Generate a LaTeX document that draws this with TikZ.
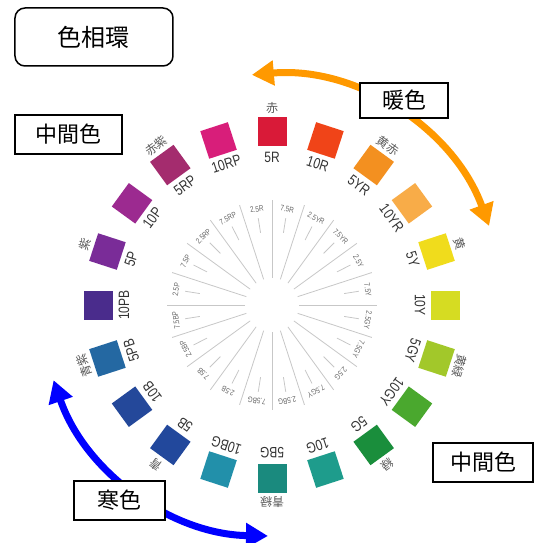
\documentclass[tikz,border=0pt]{standalone}
\usepackage{fontspec}
\setmainfont{Liberation Sans}
\newfontfamily\narrowfont[FakeStretch=0.8]{Liberation Sans}
\newfontfamily\jpfont{Noto Sans CJK JP}
\usetikzlibrary{arrows.meta}
\definecolor{warmor}{HTML}{FF9900}
\definecolor{coldbl}{HTML}{0000FF}
\begin{document}
\begin{tikzpicture}[x=1pt,y=1pt,
  sq/.style={minimum size=29pt, inner sep=0pt, outer sep=0pt},
  huelbl/.style={font=\narrowfont\fontsize{15}{15}\selectfont, text=black!80, inner sep=0pt},
  jplbl/.style={font=\jpfont\fontsize{12}{12}\selectfont, text=black!65, inner sep=0pt},
  sublbl/.style={font=\narrowfont\fontsize{8}{8}\selectfont, text=black!60, inner sep=0pt},
  spoke/.style={draw=black!22, line width=0.8pt},
  tagbox/.style={draw=black, fill=white, line width=1.5pt, font=\jpfont\fontsize{22}{22}\selectfont, inner sep=0pt},
  bigarrow/.style={line width=7pt, {Triangle[length=22pt,width=24pt]}-{Triangle[length=22pt,width=24pt]}}
]
\path[use as bounding box] (-272,-238) rectangle (263,305);

% spokes
\foreach \i in {0,...,19}{
  \pgfmathsetmacro{\ang}{90-18*\i}
  \draw[spoke] (\ang:27) -- (\ang:105);
  \draw[spoke] (\ang+9:73) -- (\ang+9:88);
}

% small intermediate labels
\foreach \k/\fa/\fb in {0/2.5R/7.5R,1/2.5YR/7.5YR,2/2.5Y/7.5Y,3/2.5GY/7.5GY,4/2.5G/7.5GY,5/2.5BG/7.5BG,6/2.5B/7.5B,7/2.5BP/7.5BP,8/2.5P/7.5P,9/2.5RP/7.5RP}{
  \pgfmathsetmacro{\ang}{90-36*\k}
  \node[sublbl, rotate=\ang+9-90] (sa\k) at (\ang+9:97) {\fa};
  \node[sublbl, rotate=\ang-9-90] (sb\k) at (\ang-9:97) {\fb};
}

% colour squares and hue labels
\foreach \i/\hn/\hc in {0/5R/D91A38,1/10R/F04418,2/5YR/F39020,3/10YR/F8AC48,4/5Y/F0DC1C,5/10Y/D6DC22,6/5GY/A2C82A,7/10GY/4AA82E,8/5G/1A8E3C,9/10G/1E9C8C,10/5BG/1A8A7E,11/10BG/2290AA,12/5B/22489C,13/10B/24489A,14/5PB/2468A2,15/10PB/4A2C8C,16/5P/7A2C98,17/10P/9C2A90,18/5RP/A42C6E,19/10RP/D81E7A}{
  \pgfmathsetmacro{\ang}{90-18*\i}
  \definecolor{huecol}{HTML}{\hc}
  \node[sq, fill=huecol, rotate=\ang-90] (sq\i) at (\ang:173) {};
  \node[huelbl, rotate=\ang-90] (hl\i) at (\ang:148) {\hn};
}

% outer Japanese names
\foreach \i/\jn in {0/赤,2/黄赤,4/黄,6/黄緑,8/緑,10/青緑,12/青,14/青紫,16/紫,18/赤紫}{
  \pgfmathsetmacro{\ang}{90-18*\i}
  \node[jplbl, rotate=\ang-90] (jn\i) at (\ang:197) {\jn};
}

% arrows
\coordinate (wa) at (95:231);
\coordinate (ca) at (199:231);
\draw[bigarrow, draw=warmor] (wa) arc[start angle=95, end angle=20, radius=231];
\draw[bigarrow, draw=coldbl] (ca) arc[start angle=199, end angle=269, radius=231];

% boxes
\node[tagbox, rounded corners=10pt, minimum width=158pt, minimum height=58pt, font=\jpfont\fontsize{24}{24}\selectfont] (title) at (-178,268) {色相環};
\node[tagbox, minimum width=88pt, minimum height=35pt] (warm) at (132,204.5) {暖色};
\node[tagbox, minimum width=107pt, minimum height=39pt] (midA) at (-203.5,170.5) {中間色};
\node[tagbox, minimum width=100pt, minimum height=39pt] (midB) at (211,-157.5) {中間色};
\node[tagbox, minimum width=91pt, minimum height=39pt] (cold) at (-152.5,-195.5) {寒色};
\end{tikzpicture}
\end{document}
